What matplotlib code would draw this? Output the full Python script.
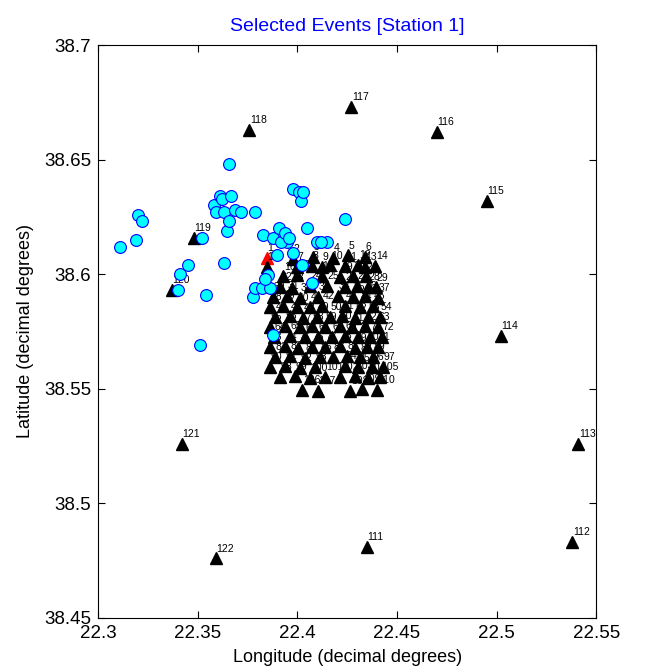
import matplotlib
matplotlib.use("Agg")
import matplotlib.pyplot as plt

plt.rcParams['font.family'] = ['Liberation Sans', 'DejaVu Sans']

# Stations (numbered 1..122): longitude, latitude
st_lon = [
    22.3848, 22.3979, 22.4079, 22.4180, 22.4255, 22.4340,
    22.3999, 22.4074, 22.4124, 22.4165, 22.4240, 22.4305, 22.4340, 22.4391,
    22.3848, 22.3929, 22.3999, 22.4124, 22.4215, 22.4280, 22.4345,
    22.3914, 22.3974, 22.4064, 22.4150, 22.4240, 22.4300, 22.4355, 22.4396,
    22.3879, 22.3949, 22.4014, 22.4104, 22.4205, 22.4280, 22.4340, 22.4406,
    22.3863, 22.3929, 22.3999, 22.4064, 22.4124, 22.4240, 22.4315, 22.4381,
    22.3889, 22.3964, 22.4029, 22.4099, 22.4165, 22.4225, 22.4290, 22.4355, 22.4416,
    22.3863, 22.3939, 22.4014, 22.4074, 22.4140, 22.4215, 22.4275, 22.4340, 22.4406,
    22.3884, 22.3964, 22.4039, 22.4104, 22.4175, 22.4240, 22.4305, 22.4365, 22.4426,
    22.3863, 22.3939, 22.4004, 22.4074, 22.4140, 22.4215, 22.4290, 22.4350, 22.4406,
    22.3889, 22.3964, 22.4039, 22.4114, 22.4180, 22.4250, 22.4315, 22.4381,
    22.3863, 22.3939, 22.4014, 22.4089, 22.4240, 22.4305, 22.4376, 22.4431,
    22.3914, 22.3989, 22.4064, 22.4140, 22.4215, 22.4290, 22.4355, 22.4416,
    22.4024, 22.4104, 22.4265, 22.4325, 22.4401,
    22.435, 22.538, 22.541, 22.502, 22.495, 22.470,
    22.427, 22.376, 22.348, 22.337, 22.342, 22.359,
]
st_lat = [
    38.6070, 38.6068, 38.6075, 38.6072, 38.6082, 38.6075,
    38.6032, 38.6036, 38.6030, 38.6038, 38.6034, 38.6040, 38.6030, 38.6036,
    38.6030, 38.5990, 38.5995, 38.5992, 38.5988, 38.5994, 38.5990,
    38.5945, 38.5940, 38.5948, 38.5950, 38.5944, 38.5950, 38.5945, 38.5942,
    38.5900, 38.5905, 38.5898, 38.5902, 38.5906, 38.5900, 38.5904, 38.5898,
    38.5857, 38.5860, 38.5855, 38.5858, 38.5862, 38.5860, 38.5856, 38.5860,
    38.5813, 38.5816, 38.5810, 38.5815, 38.5812, 38.5818, 38.5811, 38.5815, 38.5812,
    38.5770, 38.5773, 38.5768, 38.5772, 38.5770, 38.5775, 38.5768, 38.5772, 38.5770,
    38.5726, 38.5729, 38.5724, 38.5728, 38.5725, 38.5730, 38.5724, 38.5728, 38.5726,
    38.5682, 38.5685, 38.5680, 38.5684, 38.5681, 38.5686, 38.5680, 38.5684, 38.5682,
    38.5639, 38.5642, 38.5636, 38.5640, 38.5638, 38.5643, 38.5637, 38.5640,
    38.5595, 38.5598, 38.5592, 38.5596, 38.5599, 38.5593, 38.5596, 38.5594,
    38.5551, 38.5554, 38.5548, 38.5552, 38.5550, 38.5555, 38.5549, 38.5552,
    38.5495, 38.5490, 38.5492, 38.5500, 38.5496,
    38.481, 38.483, 38.526, 38.573, 38.632, 38.662,
    38.673, 38.663, 38.616, 38.593, 38.526, 38.476,
]
selected_station = 1

# Selected events: longitude, latitude
ev_lon = [
    22.311, 22.319, 22.320, 22.322, 22.341, 22.340, 22.345, 22.352, 22.354, 22.351,
    22.358, 22.359, 22.361, 22.362, 22.363, 22.365, 22.363, 22.366, 22.366, 22.367,
    22.369, 22.372, 22.379, 22.378, 22.379, 22.3823, 22.3863, 22.3853, 22.3899, 22.3949,
    22.3979, 22.4024, 22.4099, 22.4074, 22.4150, 22.3879, 22.383, 22.388, 22.391, 22.392,
    22.394, 22.396, 22.398, 22.401, 22.402, 22.403, 22.405, 22.412, 22.424, 22.384,
]
ev_lat = [
    38.612, 38.615, 38.626, 38.623, 38.600, 38.593, 38.604, 38.616, 38.591, 38.569,
    38.630, 38.627, 38.634, 38.633, 38.627, 38.619, 38.605, 38.623, 38.648, 38.634,
    38.628, 38.627, 38.627, 38.590, 38.594, 38.5940, 38.5940, 38.5997, 38.6084, 38.6141,
    38.6093, 38.6040, 38.6141, 38.5962, 38.6141, 38.5735, 38.617, 38.616, 38.620, 38.614,
    38.618, 38.616, 38.637, 38.636, 38.632, 38.636, 38.620, 38.614, 38.624, 38.598,
]

xticks = [22.3, 22.35, 22.4, 22.45, 22.5, 22.55]
yticks = [38.45, 38.5, 38.55, 38.6, 38.65, 38.7]
xticklabels = ['22.3', '22.35', '22.4', '22.45', '22.5', '22.55']
yticklabels = ['38.45', '38.5', '38.55', '38.6', '38.65', '38.7']

fig = plt.figure(figsize=(6.53, 6.68), dpi=100)
ax = fig.add_axes([0.150, 0.0749, 0.763, 0.8577])

z = 2
for i, (lo, la) in enumerate(zip(st_lon, st_lat)):
    num = i + 1
    col = 'red' if num == selected_station else 'black'
    ax.plot(lo, la, marker='^', color=col, markersize=8, linestyle='none', zorder=z)
    ax.annotate(str(num), (lo, la), xytext=(0.5, 3.5), textcoords='offset points',
                ha='left', va='bottom', fontsize=7.5, color='black', zorder=z + 0.5)
    z += 1

ax.plot(ev_lon, ev_lat, 'o', markerfacecolor='#00FFFF', markeredgecolor='#0000FF',
        markeredgewidth=0.8, markersize=8.5, linestyle='none', zorder=z + 5)

ax.set_xlim(22.3, 22.55)
ax.set_ylim(38.45, 38.7)
ax.set_xticks(xticks)
ax.set_xticklabels(xticklabels)
ax.set_yticks(yticks)
ax.set_yticklabels(yticklabels)
ax.tick_params(direction='in', top=True, right=True, labelsize=13.5, length=5, pad=5)
ax.set_xlabel('Longitude (decimal degrees)', fontsize=13, labelpad=5)
ax.set_ylabel('Latitude (decimal degrees)', fontsize=13, labelpad=7)
ax.set_title('Selected Events [Station 1]', color='blue', fontsize=14, pad=10)

fig.savefig('out.png', dpi=100)
